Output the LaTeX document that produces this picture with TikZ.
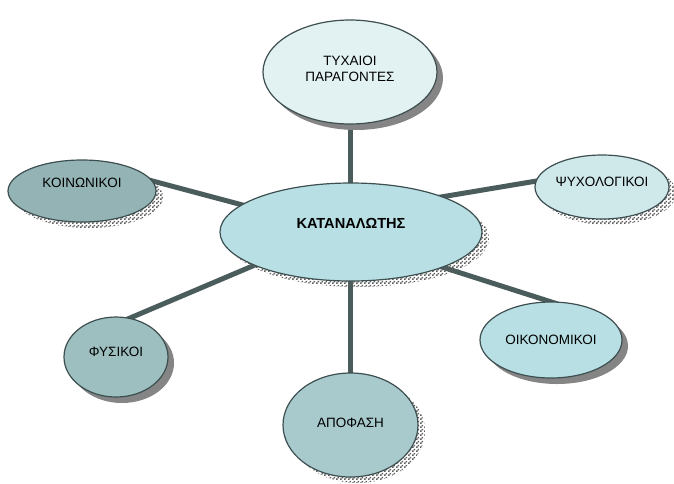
\documentclass[tikz,border=0pt]{standalone}
\usepackage{fontspec}
\setmainfont{Liberation Sans}
\usetikzlibrary{shapes.geometric,shadows,patterns,backgrounds}
\pgfdeclarepatternformonly{smallcheck}{\pgfpointorigin}{\pgfqpoint{4pt}{4pt}}{\pgfqpoint{4pt}{4pt}}{%
 \pgfpathrectangle{\pgfpointorigin}{\pgfqpoint{2pt}{2pt}}%
 \pgfpathrectangle{\pgfqpoint{2pt}{2pt}}{\pgfqpoint{2pt}{2pt}}%
 \pgfusepath{fill}}
\definecolor{edgec}{HTML}{3D4F50}
\definecolor{linkc}{HTML}{4A5C5C}
\definecolor{shadc}{HTML}{5E5E5E}
\definecolor{solidc}{HTML}{858585}
\definecolor{centc}{HTML}{B8DFE3}
\definecolor{tyxc}{HTML}{E2F1F2}
\definecolor{koinc}{HTML}{93B3B4}
\definecolor{psyc}{HTML}{CFE8EA}
\definecolor{fysc}{HTML}{9EBFC0}
\definecolor{oikc}{HTML}{B8DFE3}
\definecolor{apoc}{HTML}{A8CACC}
\tikzset{
 bub/.style={ellipse, draw=edgec, line width=1.2pt, inner sep=0pt},
 chk/.style={general shadow={shadow xshift=7pt, shadow yshift=-6pt, pattern=smallcheck, pattern color=shadc}},
 sol/.style={general shadow={shadow xshift=6pt, shadow yshift=-6pt, fill=solidc}},
 link/.style={draw=linkc, line width=5pt, shorten <=-8pt, shorten >=-8pt},
 lbl/.style={font=\fontsize{13.5}{16}\selectfont, align=center, inner sep=0pt}
}
\begin{document}
\begin{tikzpicture}[x=1pt,y=-1pt]
\useasboundingbox (0,0) rectangle (674,483);
\node[bub, chk, fill=centc, minimum width=262pt, minimum height=98pt] (cent) at (351,232) {};
\node[bub, sol, fill=tyxc, minimum width=174pt, minimum height=104pt] (tyx) at (350,72) {};
\node[bub, chk, fill=koinc, minimum width=148pt, minimum height=62pt] (koin) at (82,191) {};
\node[bub, chk, fill=psyc, minimum width=134pt, minimum height=64pt] (psy) at (602,187) {};
\node[bub, sol, fill=fysc, minimum width=104pt, minimum height=80pt] (fys) at (116,357) {};
\node[bub, sol, fill=oikc, minimum width=142pt, minimum height=76pt] (oik) at (551,340) {};
\node[bub, chk, fill=apoc, minimum width=135pt, minimum height=104pt] (apo) at (350.5,425) {};
\begin{scope}[on background layer]
\draw[link] (tyx.south) -- (tyx.south |- cent.center);
\draw[link] (apo.north) -- (apo.north |- cent.center);
\draw[link] (koin.8) -- (cent.166);
\draw[link] (psy.175) -- (cent.21);
\draw[link] (fys.70) -- (cent.199);
\draw[link] (oik.92) -- (cent.-21);
\end{scope}
\node[lbl, font=\fontsize{14.6}{16}\selectfont\bfseries] (centt) at ([yshift=9pt]cent.center) {ΚΑΤΑΝΑΛΩΤΗΣ};
\node[lbl] (tyxt) at ([yshift=3pt]tyx.center) {ΤΥΧΑΙΟΙ\\ΠΑΡΑΓΟΝΤΕΣ};
\node[lbl] (koint) at ([yshift=8pt]koin.center) {ΚΟΙΝΩΝΙΚΟΙ};
\node[lbl] (psyt) at ([yshift=5pt]psy.center) {ΨΥΧΟΛΟΓΙΚΟΙ};
\node[lbl] (fyst) at ([yshift=5pt]fys.center) {ΦΥΣΙΚΟΙ};
\node[lbl] (oikt) at (oik.center) {ΟΙΚΟΝΟΜΙΚΟΙ};
\node[lbl] (apot) at ([yshift=2pt]apo.center) {ΑΠΟΦΑΣΗ};
\end{tikzpicture}
\end{document}
